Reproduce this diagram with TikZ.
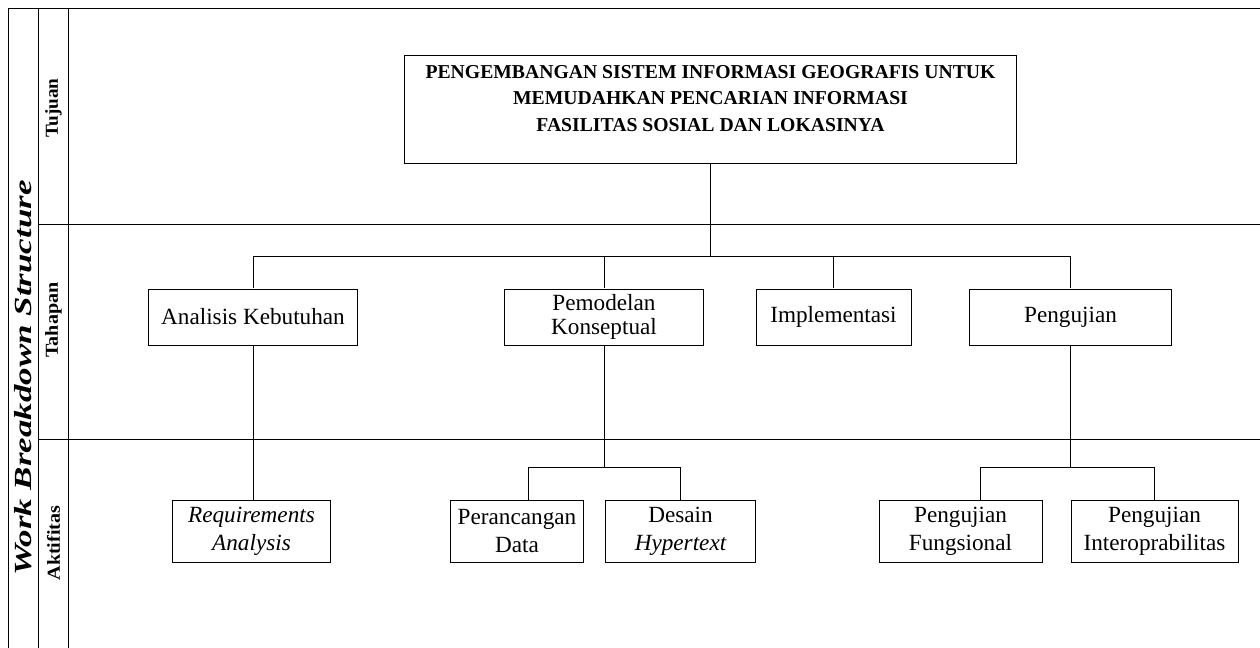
\documentclass[tikz,border=0pt]{standalone}
\usepackage{fontspec}
\setmainfont{Liberation Serif}
\usetikzlibrary{positioning,calc}

\begin{document}
\begin{tikzpicture}[
    x=0.025cm, y=-0.025cm,
    goal/.style={rectangle, draw, line width=0.7pt, minimum width=15.275cm, minimum height=2.675cm, align=center, font=\fontsize{14}{19}\selectfont\bfseries},
    phase/.style={rectangle, draw, line width=0.7pt, minimum height=1.4cm, align=center, font=\fontsize{16.5}{17}\selectfont},
    task/.style={rectangle, draw, line width=0.7pt, minimum height=1.55cm, align=center, font=\fontsize{16.5}{20}\selectfont},
    edge/.style={line width=0.7pt},
    rowlbl/.style={rotate=90, inner sep=0pt, font=\fontsize{13}{15}\selectfont\bfseries}
]
    \useasboundingbox (0,0) rectangle (1260,648);

    \draw[edge] (8.5,648) -- (8.5,8.5) -- (1260,8.5);
    \draw[edge] (38.5,8.5) -- (38.5,648);
    \draw[edge] (68.5,8.5) -- (68.5,648);
    \draw[edge] (38.5,224.5) -- (1260,224.5);
    \draw[edge] (38.5,439.5) -- (1260,439.5);

    \node[rowlbl, font=\fontsize{17.5}{18}\selectfont\bfseries\itshape] (wbs) at (23.5,378) {\scalebox{1.42}[1]{Work Breakdown Structure}};
    \node[rowlbl] (tujuan) at (53.5,108) {\scalebox{1.05}[1]{Tujuan}};
    \node[rowlbl] (tahapan) at (53.5,320) {\scalebox{1.1}[1]{Tahapan}};
    \node[rowlbl] (aktifitas) at (53.5,543) {\scalebox{1.1}[1]{Aktifitas}};

    \node[goal] (g) at (710.5,109.5) {PENGEMBANGAN SISTEM INFORMASI GEOGRAFIS UNTUK\\MEMUDAHKAN PENCARIAN INFORMASI\\FASILITAS SOSIAL DAN LOKASINYA\\[-0.5ex]\mbox{}};

    \node[phase, minimum width=5.2cm] (p1) at (253,317) {Analisis Kebutuhan};
    \node[phase, minimum width=4.95cm] (p2) at (604,317) {Pemodelan\\Konseptual};
    \node[phase, minimum width=3.875cm] (p3) at (833.5,317) {Implementasi};
    \node[phase, minimum width=5.025cm] (p4) at (1070.5,317) {Pengujian};

    \node[task, minimum width=3.925cm] (a1) at (251.5,531) {\itshape Requirements\\\itshape Analysis};
    \node[task, minimum width=3.3cm] (a2) at (517,531) {Perancangan\\Data};
    \node[task, minimum width=3.725cm] (a3) at (680.5,531) {Desain\\\itshape Hypertext};
    \node[task, minimum width=4.075cm] (a4) at (960.5,531) {Pengujian\\Fungsional};
    \node[task, minimum width=4.175cm] (a5) at (1154.5,531) {Pengujian\\Interoprabilitas};

    \coordinate (busg) at (g.south |- 0,256.5);
    \coordinate (bus2) at (p2.south |- 0,467.5);
    \coordinate (bus4) at (p4.south |- 0,467.5);

    \draw[edge] (g.south) -- (busg);
    \draw[edge] (p1.north) |- (busg) -| (p4.north);
    \draw[edge] (p2.north) -- (p2.north |- busg);
    \draw[edge] (p3.north) -- (p3.north |- busg);

    \draw[edge] (p1.south) -- (a1.north -| p1.south);

    \draw[edge] (p2.south) -- (bus2);
    \draw[edge] ([xshift=0.275cm]a2.north) |- (bus2) -| (a3.north);

    \draw[edge] (p4.south) -- (bus4);
    \draw[edge] ([xshift=0.5cm]a4.north) |- (bus4) -| (a5.north);
\end{tikzpicture}
\end{document}
